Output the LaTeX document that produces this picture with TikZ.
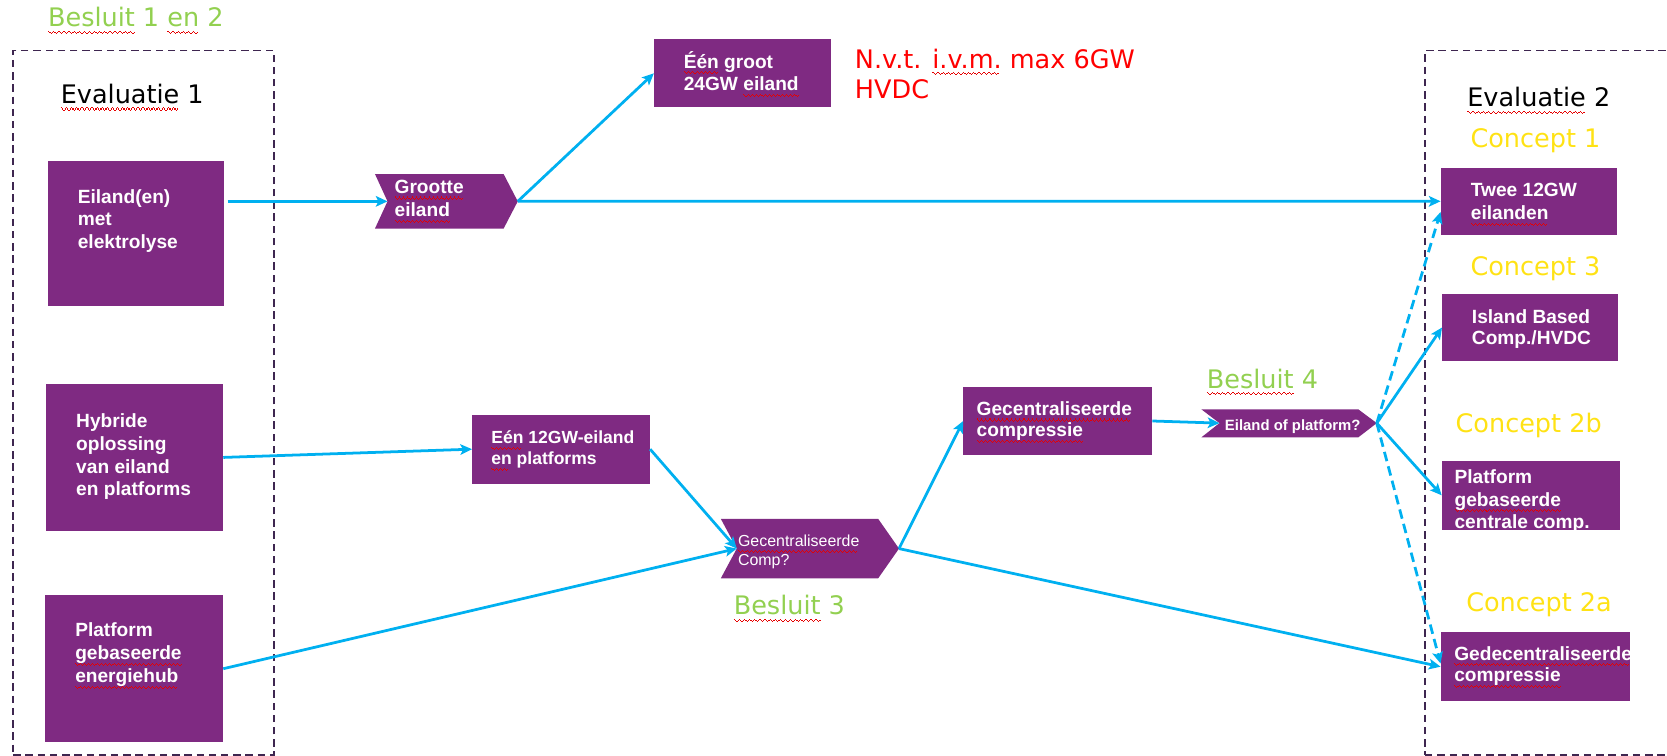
\documentclass[tikz,border=0pt]{standalone}
\usepackage{fontspec}
\usetikzlibrary{arrows.meta,calc,fit}
\newfontfamily\vfont{DejaVu Sans}
\newfontfamily\afont{Liberation Sans}
\definecolor{purp}{RGB}{127,42,130}
\definecolor{arrblue}{RGB}{0,176,240}
\definecolor{bgreen}{RGB}{146,208,80}
\definecolor{cyel}{RGB}{255,226,20}
\definecolor{dcol}{RGB}{62,38,80}
\definecolor{spred}{RGB}{230,0,0}
\definecolor{nvtred}{RGB}{255,0,0}
\newcommand\sqpat{\hbox{\vrule height -3pt depth 4pt width 1pt\vrule height -4pt depth 5pt width 1pt\vrule height -5pt depth 6pt width 1pt\vrule height -4pt depth 5pt width 1pt}}
\newcommand\sqpatb{\hbox{\vrule height -4pt depth 5pt width 1.2pt\vrule height -5pt depth 6pt width 1.2pt\vrule height -6pt depth 7pt width 1.2pt\vrule height -5pt depth 6pt width 1.2pt}}
\newcommand\sq[1]{\setbox0\hbox{#1}\rlap{\color{spred}\hbox to\wd0{\leaders\sqpat\hfill}}\box0\relax}
\newcommand\sqb[1]{\setbox0\hbox{#1}\rlap{\color{spred}\hbox to\wd0{\leaders\sqpatb\hfill}}\box0\relax}
\newcommand\ml[1]{\vtop{\halign{##\hfil\cr#1\crcr}}}
\tikzset{
 pbox/.style={fill=purp, draw=none, inner sep=0pt, outer sep=0pt},
 dbox/.style={draw=dcol, line width=1.4pt, dash pattern=on 7pt off 4.5pt, inner sep=0pt, fill=none},
 btxt/.style={anchor=base west, inner sep=0pt, text=white, font=\afont\bfseries\fontsize{18}{21.5}\selectfont},
 lbl/.style={anchor=base west, inner sep=0pt, font=\vfont\fontsize{24}{29}\selectfont},
 arr/.style={draw=arrblue, line width=2.6pt, -{Stealth[length=11pt,width=10pt,inset=2.5pt]}},
 darr/.style={arr, dash pattern=on 9pt off 5pt},
}
\begin{document}
\begin{tikzpicture}[x=1pt,y=-1pt]
\useasboundingbox (0,0) rectangle (1568,711);
\clip (0,0) rectangle (1568,711);
% frames
\node[dbox, fit={(12.4,47.7)(257.7,710)}] (ev1) {};
\node[dbox, fit={(1340.4,47.7)(1640,710)}] (ev2) {};
% labels
\node[lbl, text=bgreen] (l12) at (45,25) {\sqb{Besluit} 1 \sqb{en} 2};
\node[lbl, text=black] (e1) at (57,97) {\sqb{Evaluatie} 1};
\node[lbl, text=black] (e2) at (1380,100) {\sqb{Evaluatie} 2};
\node[lbl, text=cyel] (k1) at (1383,139) {Concept 1};
\node[lbl, text=cyel] (k3) at (1383,259) {Concept 3};
\node[lbl, text=cyel] (k2b) at (1369,407) {Concept 2b};
\node[lbl, text=cyel] (k2a) at (1379,575) {Concept 2a};
\node[lbl, text=bgreen] (b3) at (690,578) {\sqb{Besluit} 3};
\node[lbl, text=bgreen] (b4) at (1135,365) {\sqb{Besluit} 4};
\node[lbl, text=nvtred] (nvt) at (804,64) {\ml{N.v.t. \sqb{i.v.m.} max 6GW\cr HVDC}};
% boxes
\node[pbox, fit={(45.4,151.5)(211,288)}] (A) {};
\node[btxt] (At) at (73,191) {\ml{Eiland(en)\cr met\cr elektrolyse}};
\node[pbox, fit={(43.7,361)(210,499.5)}] (B) {};
\node[btxt] (Bt) at (71.5,402) {\ml{Hybride\cr oplossing\cr van eiland\cr en platforms}};
\node[pbox, fit={(42.3,560)(210,698)}] (C) {};
\node[btxt] (Ct) at (70.6,599) {\ml{Platform\cr \sq{gebaseerde}\cr \sq{energiehub}}};
\node[pbox, fit={(615,37)(782,101)}] (Een1) {};
\node[btxt] (Een1t) at (643,64) {\ml{\sq{Één} groot\cr 24GW \sq{eiland}}};
\node[pbox, fit={(444,390)(611.5,455)}] (Een2) {};
\node[btxt, font=\afont\bfseries\fontsize{16.5}{20}\selectfont] (Een2t) at (462,417) {\ml{\sq{Eén} 12GW-eiland\cr \sq{en} platforms}};
\node[pbox, fit={(906,364)(1084,428)}] (GC) {};
\node[btxt, font=\afont\bfseries\fontsize{18}{20}\selectfont] (GCt) at (918.5,390.6) {\ml{\sq{Gecentraliseerde}\cr \sq{compressie}}};
\node[pbox, fit={(1355,157.7)(1520.7,221)}] (Twee) {};
\node[btxt] (Tweet) at (1383.3,185) {\ml{Twee 12GW\cr \sq{eilanden}}};
\node[pbox, fit={(1356.4,276.5)(1522,339.6)}] (Isl) {};
\node[btxt, font=\afont\bfseries\fontsize{18}{20.5}\selectfont] (Islt) at (1384.3,304) {\ml{Island Based\cr Comp./HVDC}};
\node[pbox, fit={(1356,433.3)(1524,498.5)}] (Plat) {};
\node[btxt, font=\afont\bfseries\fontsize{18}{21}\selectfont] (Platt) at (1368,455) {\ml{Platform\cr \sq{gebaseerde}\cr centrale comp.}};
\node[pbox, fit={(1355,594.8)(1533,659.4)}] (Ged) {};
\node[btxt, font=\afont\bfseries\fontsize{18}{20.3}\selectfont] (Gedt) at (1367.7,620.8) {\ml{\sq{Gedecentraliseerde}\cr \sq{compressie}}};
% chevrons
\fill[purp] (352.7,163.7) -- (473.7,163.7) -- (487,189.4) -- (473.7,215) -- (352.7,215) -- (364.5,189.4) -- cycle;
\coordinate (G1in) at (364.5,189.4);
\coordinate (G1out) at (487,189.4);
\node[btxt, font=\afont\bfseries\fontsize{18}{22}\selectfont] (G1t) at (371,181.8) {\ml{\sq{Grootte}\cr \sq{eiland}}};
\fill[purp] (678,488) -- (826,488) -- (845.6,516) -- (826,544) -- (678,544) -- (693,516) -- cycle;
\coordinate (G2in) at (693,516);
\coordinate (G2out) at (845.6,516);
\node[btxt, font=\afont\fontsize{15}{17}\selectfont] (G2t) at (694,514.5) {\ml{\sq{Gecentraliseerde}\cr Comp?}};
\fill[purp] (1130,385) -- (1277.6,385) -- (1295,398) -- (1277.6,411.4) -- (1130,411.4) -- (1147,398) -- cycle;
\coordinate (G3in) at (1147,398);
\coordinate (G3out) at (1295,398);
\node[btxt, font=\afont\bfseries\fontsize{14}{16}\selectfont] (G3t) at (1152,404.5) {Eiland of platform?};
% connectors
\draw[arr, shorten <=3pt] (A.east |- G1in) -- (G1in);
\draw[arr] (G1out) -- (Een1.west);
\draw[arr] (G1out) -- (Twee.west);
\draw[arr] (B.east) -- (Een2.west);
\draw[arr] (Een2.east) -- (G2in);
\draw[arr] (C.east) -- (G2in);
\draw[arr] (G2out) -- (GC.west);
\draw[arr] (G2out) -- (Ged.west);
\draw[arr] (GC.east) -- (G3in);
\draw[arr] (G3out) -- (Isl.west);
\draw[arr] (G3out) -- (Plat.west);
\draw[darr] (G3out) -- ($(Twee.west)+(0,10)$);
\draw[darr] (G3out) -- ($(Ged.west)+(0,-3)$);
\end{tikzpicture}
\end{document}
